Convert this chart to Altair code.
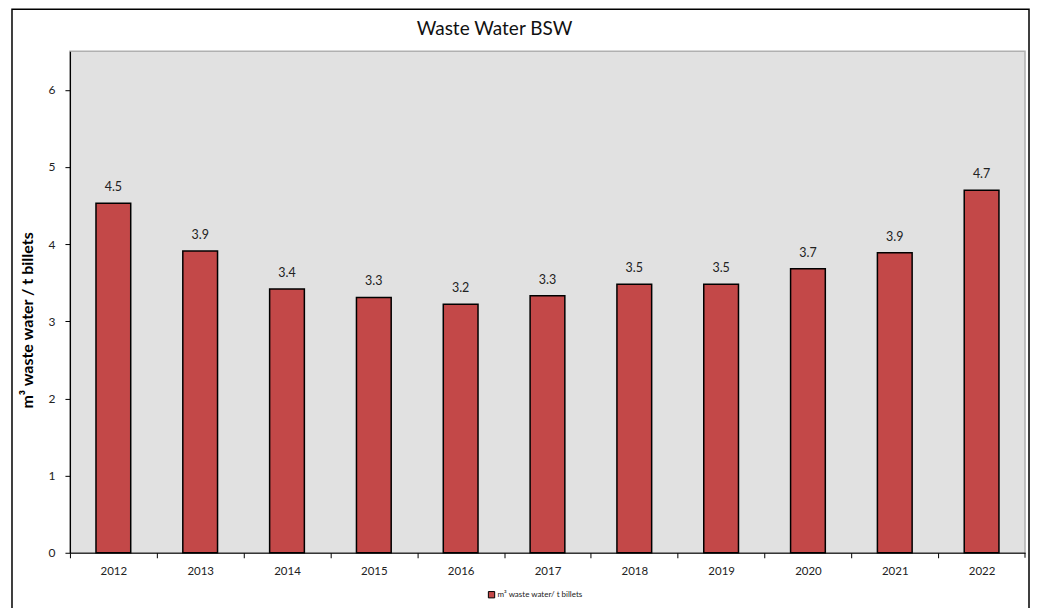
import altair as alt
import pandas as pd

years = ["2012", "2013", "2014", "2015", "2016", "2017", "2018", "2019", "2020", "2021", "2022"]
values = [4.53, 3.91, 3.42, 3.31, 3.22, 3.33, 3.48, 3.48, 3.68, 3.89, 4.70]
series_name = "m³ waste water/ t billets"
chart_title = "Waste Water BSW"

df = pd.DataFrame({"year": years, "value": values, "series": [series_name] * len(years)})
df["label"] = df["value"].map(lambda v: f"{v:.1f}")

FONT = "Lato"
W, H = 956, 502
step = W / len(years)

x_enc = alt.X("year:N", title=None, sort=years,
              scale=alt.Scale(paddingInner=0.6, paddingOuter=0.3),
              axis=alt.Axis(labelAngle=0, labelFont=FONT, labelFontSize=11.5, labelColor="#222",
                            domainColor="black", domainWidth=1.2, tickColor="black",
                            tickSize=5, tickOffset=-step / 2, labelOffset=step / 2,
                            labelPadding=8))
y_enc = alt.Y("value:Q", title="m³ waste water / t billets",
              scale=alt.Scale(domain=[0, 6.5], nice=False, zero=True),
              axis=alt.Axis(values=[0, 1, 2, 3, 4, 5, 6], format="d", grid=False,
                            labelFont=FONT, labelFontSize=12, labelColor="#222",
                            domainColor="black", domainWidth=1.2, tickColor="black",
                            tickSize=5, labelPadding=10,
                            titleFont=FONT, titleFontSize=16, titleFontWeight="bold",
                            titleColor="black", titleX=-42, titleY=269,
                            titleAngle=270, titleAlign="center", titleBaseline="middle"))

bars = alt.Chart(df).mark_bar(stroke="black", strokeWidth=1.5).encode(
    x=x_enc,
    y=y_enc,
    color=alt.Color("series:N",
                    scale=alt.Scale(range=["#c34848"]),
                    legend=alt.Legend(title=None, orient="none", legendX=418, legendY=540,
                                      symbolType="square", symbolSize=40,
                                      symbolStrokeColor="black", symbolStrokeWidth=1,
                                      labelFont=FONT, labelFontSize=8, labelColor="#222",
                                      labelOffset=2)),
)

labels = alt.Chart(df).mark_text(baseline="bottom", dy=-9, font=FONT, fontSize=12.5,
                                 color="#222").encode(
    x=alt.X("year:N", sort=years),
    y=alt.Y("value:Q"),
    text="label:N",
)

title_df = pd.DataFrame({"t": [chart_title]})
title = alt.Chart(title_df).mark_text(font=FONT, fontSize=19, color="#111",
                                      align="center", baseline="middle").encode(
    x=alt.value(425), y=alt.value(-22), text="t:N")

frame_df = pd.DataFrame({"a": [0]})
right_tick = alt.Chart(frame_df).mark_rule(color="black", strokeWidth=1).encode(
    x=alt.value(W), y=alt.value(H), y2=alt.value(H + 5))
frame = alt.Chart(frame_df).mark_rect(fillOpacity=0, stroke="black", strokeWidth=1.5).encode(
    x=alt.value(-58), x2=alt.value(960), y=alt.value(-42), y2=alt.value(620))

chart = alt.layer(bars, labels, title, right_tick, frame).properties(
    width=W, height=H,
    background="white",
    autosize=alt.AutoSizeParams(type="none"),
    padding={"left": 62, "top": 43, "right": 5, "bottom": 55},
).configure_view(
    fill="#e1e1e1", stroke="#b0b0b0", strokeWidth=1.5
)

chart.save("out.html", embed_options={"renderer": "svg", "actions": False})
